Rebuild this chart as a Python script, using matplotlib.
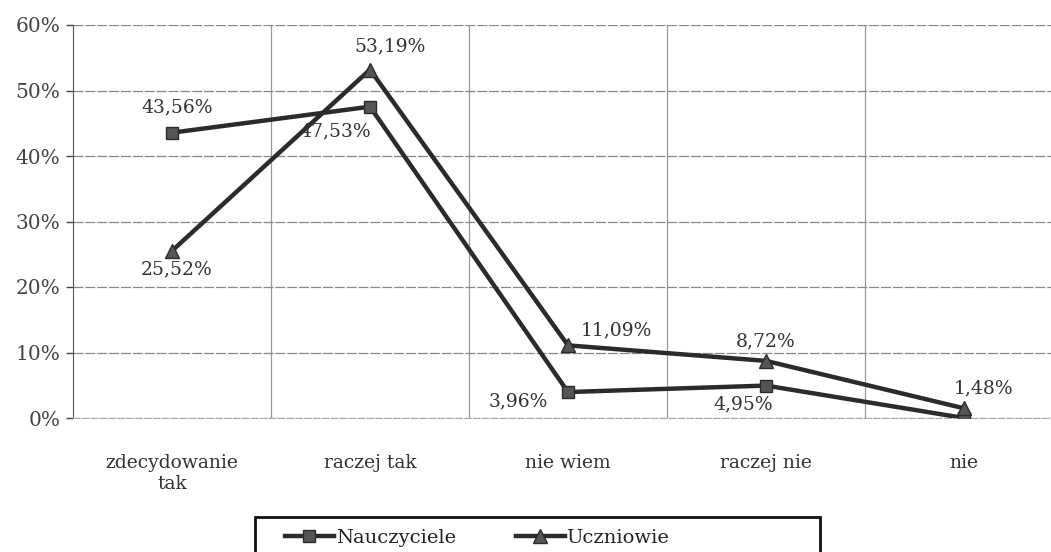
import matplotlib.pyplot as plt
from matplotlib.ticker import FuncFormatter
from matplotlib.patches import Rectangle

# categories and values (%)
categories = ["zdecydowanie\ntak", "raczej tak", "nie wiem", "raczej nie", "nie"]
nauczyciele = [43.56, 47.53, 3.96, 4.95, 0.0]
uczniowie = [25.52, 53.19, 11.09, 8.72, 1.48]

# label offsets in pixels (dx, dy) for each point, None = no label
n_off = [(5, 25), (-35, -25), (-50, -9), (-23, -19), None]
u_off = [(5, -19), (20, 23), (48, 15), (0, 20), (20, 20)]

plt.rcParams['font.family'] = ['DejaVu Serif']
fig = plt.figure(figsize=(10.51, 5.52), dpi=100)
ax = fig.add_axes([73/1051, 134/552, 990/1051, 393/552])

x = list(range(len(categories)))
col = '#2b2b2b'
ax.plot(x, nauczyciele, color=col, lw=3.2, marker='s', markersize=9,
        markerfacecolor='#555555', markeredgecolor=col, label='Nauczyciele', zorder=3)
ax.plot(x, uczniowie, color=col, lw=3.2, marker='^', markersize=10,
        markerfacecolor='#555555', markeredgecolor=col, label='Uczniowie', zorder=3)

def fmt(v):
    return ("%.2f%%" % v).replace('.', ',')

for xs, vals, offs in [(x, nauczyciele, n_off), (x, uczniowie, u_off)]:
    for xi, v, o in zip(xs, vals, offs):
        if o is None:
            continue
        ax.annotate(fmt(v), (xi, v), xytext=(o[0] * 0.72, o[1] * 0.72),
                    textcoords='offset points', ha='center', va='center',
                    fontsize=13.5, color='#333333')

ax.set_xlim(-0.5, 4.5)
ax.set_ylim(0, 60)
ax.set_yticks(range(0, 61, 10))
ax.yaxis.set_major_formatter(FuncFormatter(lambda v, p: "%d%%" % v))
ax.set_xticks(x)
ax.set_xticklabels(categories)
ax.set_xticks([0.5, 1.5, 2.5, 3.5], minor=True)
ax.tick_params(axis='x', which='both', length=0, pad=26, labelsize=13.5, colors='#333333')
ax.tick_params(axis='y', length=5, width=1, colors='#444444', labelsize=14.5, pad=4)
ax.grid(axis='y', which='major', color='#888888', lw=0.9, ls=(0, (8, 1.5)))
ax.grid(axis='x', which='minor', color='#999999', lw=0.9)
for s in ['top', 'right']:
    ax.spines[s].set_visible(False)
ax.spines['bottom'].set_color('#aaaaaa')
ax.spines['bottom'].set_linestyle((0, (6, 2)))
ax.spines['left'].set_color('#555555')
ax.set_axisbelow(True)

# legend box (runs off the bottom edge like the scan)
fig.patches.append(Rectangle((255/1051, -0.02), 565/1051, 1 - 517/552 + 0.02,
                             transform=fig.transFigure, fill=False,
                             edgecolor='#111111', lw=2))
leg = fig.legend(loc='center left', bbox_to_anchor=(285/1051, 1 - 538/552),
                 ncol=2, frameon=False, fontsize=14, handlelength=2.5,
                 borderaxespad=0, borderpad=0, handletextpad=0.1, columnspacing=3.1)
for t in leg.get_texts():
    t.set_color('#222222')

fig.savefig('out.png', dpi=100)
